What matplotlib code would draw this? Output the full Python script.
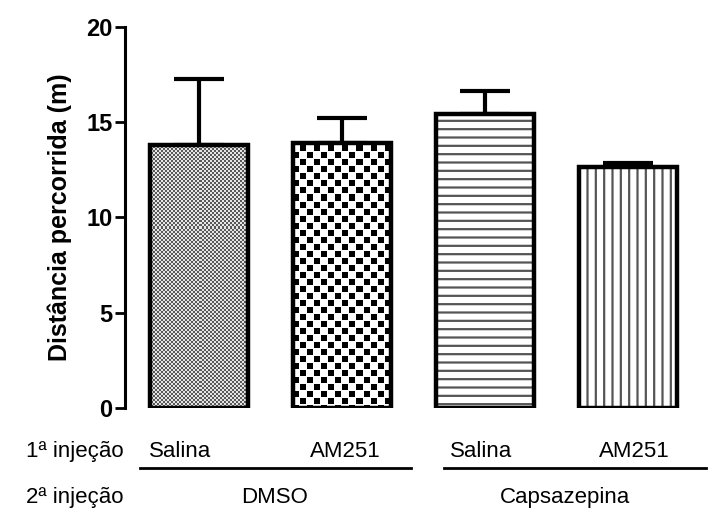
import numpy as np
import matplotlib
matplotlib.use("Agg")
import matplotlib.pyplot as plt

plt.rcParams['font.family'] = ['Liberation Sans', 'DejaVu Sans']
plt.rcParams['hatch.linewidth'] = 1.6

# dados (média e erro padrão)
primeira = ['Salina', 'AM251', 'Salina', 'AM251']
segunda = ['DMSO', 'Capsazepina']
medias = [13.82, 13.93, 15.44, 12.66]
erros = [3.46, 1.28, 1.20, 0.22]
yticks = [0, 5, 10, 15, 20]

x = np.arange(len(medias))
largura = 0.685

fig = plt.figure(figsize=(7.08, 5.14), dpi=100)
ax = fig.add_axes([0.1766, 0.2062, 0.798, 0.7413])

ax.set_xlim(-0.517, 3.43)
ax.set_ylim(0, 20)

# barras: preenchimento branco, hachuras de linhas nas duas últimas
hachuras = ['', '', '--', '||']
barras = ax.bar(x, medias, width=largura, color='white', edgecolor='none', zorder=2)
for b, h in zip(barras, hachuras):
    if h:
        b.set_hatch(h)
        b.set_edgecolor('#555555')

# padrão xadrez (fino e grosso) recortado nas duas primeiras barras
fig.canvas.draw()
x0, y0 = ax.transAxes.transform((0, 0))
x1, y1 = ax.transAxes.transform((1, 1))
w_px, h_px = int(round(x1 - x0)), int(round(y1 - y0))
ii, jj = np.mgrid[0:h_px, 0:w_px]
# fino: pontos cinza
fino = ((ii // 2 + jj // 2) % 2).astype(float)
fino = 0.35 + 0.55 * fino
# grosso: quadrados pretos um pouco menores que as casas brancas
cel = 7
dentro = ((ii % cel) <= 5) & ((jj % cel) <= 5)
grosso = np.where((((ii // cel + jj // cel) % 2) == 0) & dentro, 0.0, 1.0)
for b, img in zip(barras[:2], [fino, grosso]):
    im = ax.imshow(img, cmap='gray', vmin=0, vmax=1, interpolation='nearest',
                   extent=[*ax.get_xlim(), *ax.get_ylim()], aspect='auto', zorder=2.5)
    im.set_clip_path(b)

# contorno das barras e barras de erro (só para cima)
ax.bar(x, medias, width=largura, color='none', edgecolor='black', linewidth=3.2, zorder=3)
ax.errorbar(x, medias, yerr=[np.zeros(len(erros)), erros], fmt='none', ecolor='black',
            elinewidth=3, capsize=18, capthick=3, zorder=1)

ax.set_xlim(-0.517, 3.43)
ax.set_ylim(0, 20)

for s in ['top', 'right', 'bottom']:
    ax.spines[s].set_visible(False)
ax.spines['left'].set_linewidth(2.2)
ax.set_xticks([])
ax.set_yticks(yticks)
ax.tick_params(axis='y', length=7, width=2, labelsize=17, pad=2)
for t in ax.get_yticklabels():
    t.set_fontweight('bold')
ax.set_ylabel('Distância percorrida (m)', fontsize=18, fontweight='bold', labelpad=10)

# rótulos das injeções
trans = ax.get_xaxis_transform()
desloc = [-0.13, 0.02, -0.03, 0.04]
for xi, d, nome in zip(x, desloc, primeira):
    ax.text(xi + d, -0.115, nome, transform=trans, ha='center', va='center', fontsize=16)
grupos_x = [0.53, 2.56]
linhas = [(-0.41, 1.48), (1.71, 3.54)]
for gx, nome, (a, b) in zip(grupos_x, segunda, linhas):
    ax.plot([a, b], [-0.157, -0.157], color='black', linewidth=2, transform=trans, clip_on=False)
    ax.text(gx, -0.234, nome, transform=trans, ha='center', va='center', fontsize=16)
fig.text(0.174, 1 - 452 / 514, '1ª injeção', ha='right', va='center', fontsize=16)
fig.text(0.174, 1 - 497 / 514, '2ª injeção', ha='right', va='center', fontsize=16)

fig.savefig('out.png', dpi=100)
